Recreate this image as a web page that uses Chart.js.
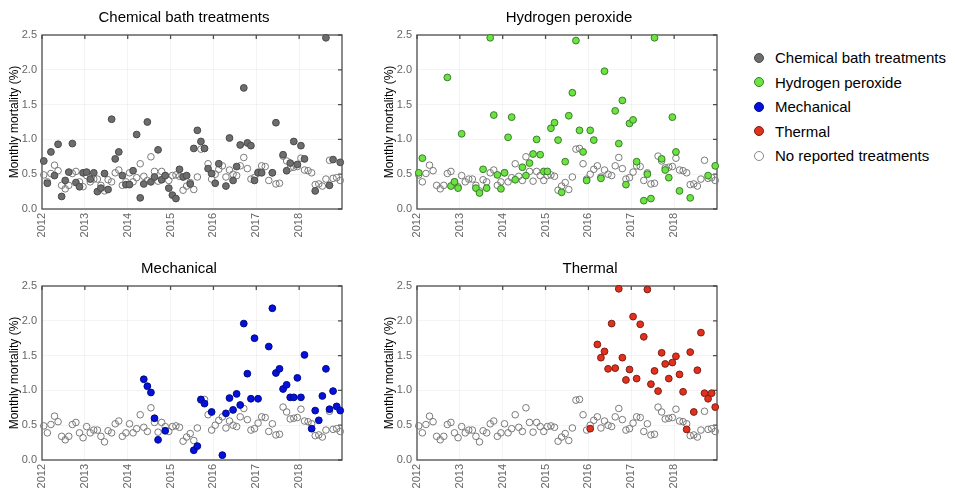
<!DOCTYPE html>
<html>
<head>
<meta charset="utf-8">
<script src="https://cdn.jsdelivr.net/npm/chart.js@4/dist/chart.umd.min.js"></script>
<style>
body { margin: 0; background: #fff; font-family: "Liberation Sans", Arial, sans-serif; }
#wrap { position: relative; width: 957px; height: 491px; overflow: hidden; }
canvas { position: absolute; }
.ttl { position: absolute; width: 240px; text-align: center; font-size: 15px; line-height: 18px; color: #000; }
#legend { position: absolute; left: 752px; top: 46px; }
.item { height: 24.5px; line-height: 24.5px; font-size: 15px; color: #000; white-space: nowrap; }
.dot { display: inline-block; width: 8px; height: 8px; border-radius: 50%; border: 1px solid; vertical-align: middle; margin: -3px 11px 0 2px; }
</style>
</head>
<body>
<div id="wrap">
  <canvas id="c1" width="355" height="250" style="left:0;top:0"></canvas>
  <canvas id="c2" width="355" height="250" style="left:375px;top:0"></canvas>
  <canvas id="c3" width="355" height="250" style="left:0;top:251px"></canvas>
  <canvas id="c4" width="355" height="250" style="left:375px;top:251px"></canvas>
  <div class="ttl" style="left:64px;top:8px">Chemical bath treatments</div>
  <div class="ttl" style="left:449px;top:8px">Hydrogen peroxide</div>
  <div class="ttl" style="left:59px;top:259px">Mechanical</div>
  <div class="ttl" style="left:470px;top:259px">Thermal</div>
  <div id="legend"></div>
</div>
<script>
// months are counted from Jan 2012 (0) to Dec 2018 (83)
var years = [2012, 2013, 2014, 2015, 2016, 2017, 2018];
var yTicks = [0, 0.5, 1.0, 1.5, 2.0, 2.5];

// no reported treatments, one value per month
var baseVals = [0.49, 0.39, 0.51, 0.63, 0.55, 0.34, 0.29, 0.34, 0.51, 0.54, 0.39, 0.32,
    0.48, 0.39, 0.43, 0.43, 0.34, 0.26, 0.42, 0.39, 0.52, 0.56, 0.34, 0.39,
    0.52, 0.39, 0.45, 0.65, 0.47, 0.41, 0.75, 0.54, 0.40, 0.54, 0.48, 0.41,
    0.48, 0.49, 0.47, 0.27, 0.33, 0.38, 0.28, 0.46, 0.86, 0.87, 0.65, 0.43,
    0.50, 0.57, 0.62, 0.46, 0.56, 0.50, 0.48, 0.62, 0.74, 0.58, 0.43, 0.45,
    0.53, 0.62, 0.61, 0.41, 0.52, 0.36, 0.37, 0.76, 0.69, 0.59, 0.60, 0.61,
    0.73, 0.56, 0.55, 0.52, 0.35, 0.36, 0.33, 0.43, 0.70, 0.44, 0.45, 0.41];

var chemMonths = [0, 1, 2, 3, 4, 5, 6, 7, 8, 9, 10, 11, 12, 13, 14, 15, 16, 17, 18, 19, 20, 21, 22, 23,
    24, 25, 26, 27, 28, 29, 30, 31, 32, 33, 34, 35, 36, 37, 38, 39, 40, 41, 42, 43, 44, 45, 46, 47,
    48, 49, 51, 52, 53, 54, 55, 56, 57, 58, 59, 60, 61, 64, 65, 67, 68, 69, 70, 71, 72, 73, 76, 79, 80, 81, 83];
var chemVals = [0.69, 0.37, 0.82, 0.48, 0.93, 0.18, 0.41, 0.53, 0.94, 0.38, 0.32, 0.52, 0.53, 0.43, 0.52, 0.25, 0.30, 0.51, 0.28, 1.29, 0.72, 0.82, 0.48, 0.35,
    0.35, 0.55, 1.07, 0.16, 0.36, 1.25, 0.39, 0.46, 0.85, 0.42, 0.48, 0.30, 0.20, 0.15, 0.57, 0.46, 0.48, 0.36, 0.87, 1.13, 0.97, 0.87, 0.58, 0.51,
    0.37, 0.65, 0.33, 1.02, 0.41, 0.61, 0.92, 1.74, 0.95, 0.91, 0.41, 0.52, 0.52, 0.52, 1.24, 0.78, 0.55, 0.66, 0.97, 0.64, 0.91, 0.72, 0.26, 2.46, 0.34, 0.71, 0.67];

var h2o2Months = [0, 1, 8, 9, 10, 11, 12, 16, 17, 18, 19, 20, 21, 22, 23, 24, 25, 26, 27, 29, 30, 31, 32, 33, 34, 35,
    36, 37, 38, 39, 40, 41, 42, 43, 44, 45, 46, 47, 48, 49, 51, 52, 55, 56, 57, 58, 59, 60, 61, 63, 64, 65, 66,
    68, 69, 70, 71, 72, 73, 76, 81, 83];
var h2o2Vals = [0.52, 0.73, 1.89, 0.33, 0.39, 0.30, 1.08, 0.30, 0.23, 0.57, 0.30, 2.46, 1.35, 0.49, 0.29, 0.52, 1.03, 1.32, 0.42, 0.60, 0.48, 0.66, 0.79, 1.00, 0.78, 0.54,
    0.54, 1.16, 1.24, 0.99, 0.24, 0.68, 1.34, 1.67, 2.42, 1.13, 0.82, 0.41, 1.13, 0.99, 0.44, 1.98, 1.41, 0.94, 1.56, 0.35, 1.23, 1.28, 0.68, 0.12, 0.50, 0.15, 2.46,
    0.72, 0.56, 0.45, 1.32, 0.82, 0.26, 0.16, 0.48, 0.62];

var mechMonths = [28, 29, 30, 31, 32, 34, 42, 43, 44, 45, 47, 50, 51, 52, 53, 54, 55, 56, 57, 58, 59, 60,
    63, 64, 65, 66, 67, 68, 69, 70, 71, 72, 73, 75, 76, 77, 78, 79, 80, 81, 82, 83];
var mechVals = [1.16, 1.06, 0.97, 0.60, 0.29, 0.42, 0.14, 0.20, 0.87, 0.81, 0.69, 0.07, 0.67, 0.89, 0.72, 0.95, 0.79, 1.96, 1.24, 0.88, 1.75, 0.88,
    1.63, 2.18, 1.25, 1.31, 1.02, 1.08, 0.90, 0.90, 1.18, 0.90, 1.51, 0.45, 0.71, 0.57, 0.92, 1.31, 0.73, 0.99, 0.77, 0.71];

var thermMonths = [48, 50, 51, 52, 53, 54, 55, 56, 57, 58, 59, 60, 61, 62, 63, 64, 65, 66, 67, 68, 69, 70,
    71, 72, 73, 74, 75, 76, 77, 78, 79, 80, 81, 82, 83];
var thermVals = [0.45, 1.66, 1.47, 1.56, 1.31, 1.96, 1.32, 2.46, 1.47, 1.15, 1.30, 2.06, 1.17, 1.95, 1.77, 2.45, 1.09, 1.28, 0.99, 1.54, 1.38, 1.17,
    1.40, 1.49, 1.23, 0.98, 0.44, 1.55, 0.69, 1.29, 1.83, 0.96, 0.88, 0.96, 0.76];

var series = [
    { name: 'Chemical bath treatments', months: chemMonths, vals: chemVals, fill: '#6d6d6d', line: '#4a4a4a' },
    { name: 'Hydrogen peroxide', months: h2o2Months, vals: h2o2Vals, fill: '#6be443', line: '#3b7d2a' },
    { name: 'Mechanical', months: mechMonths, vals: mechVals, fill: '#0610dc', line: '#000a86' },
    { name: 'Thermal', months: thermMonths, vals: thermVals, fill: '#e2301d', line: '#7a2015' }
];
var baseStyle = { name: 'No reported treatments', fill: '#ffffff', line: '#7a7a7a' };

function toPoints(months, vals) {
    var pts = [];
    for (var i = 0; i < months.length; i++) {
        pts.push({ x: months[i] + 0.5, y: vals[i] });
    }
    return pts;
}

var baseMonths = [];
for (var i = 0; i < baseVals.length; i++) baseMonths.push(i);

// frame round the plot with short inward ticks on top and right
var boxPlugin = {
    id: 'box',
    beforeDatasetsDraw: function(chart) {
        var a = chart.chartArea, c = chart.ctx;
        c.save();
        c.strokeStyle = '#4d4d4d';
        c.lineWidth = 1.3;
        c.strokeRect(a.left, a.top, a.right - a.left, a.bottom - a.top);
        c.beginPath();
        chart.scales.x.ticks.forEach(function(t) {
            var px = chart.scales.x.getPixelForValue(t.value);
            c.moveTo(px, a.top);
            c.lineTo(px, a.top + 4);
        });
        chart.scales.y.ticks.forEach(function(t) {
            var py = chart.scales.y.getPixelForValue(t.value);
            c.moveTo(a.right, py);
            c.lineTo(a.right - 4, py);
        });
        c.stroke();
        c.restore();
    }
};

function makeChart(id, s) {
    var ctx = document.getElementById(id).getContext('2d');
    return new Chart(ctx, {
        type: 'scatter',
        data: {
            datasets: [{
                label: s.name,
                data: toPoints(s.months, s.vals),
                backgroundColor: s.fill,
                borderColor: s.line,
                borderWidth: 1,
                pointRadius: 3.4,
                clip: false
            }, {
                label: baseStyle.name,
                data: toPoints(baseMonths, baseVals),
                backgroundColor: 'rgba(255,255,255,0)',
                borderColor: baseStyle.line,
                borderWidth: 1,
                pointRadius: 3.3,
                clip: false
            }]
        },
        options: {
            responsive: false,
            animation: false,
            layout: { padding: { top: 35, right: 13, left: 0, bottom: 0 } },
            plugins: { legend: { display: false }, tooltip: { enabled: false } },
            scales: {
                x: {
                    type: 'linear',
                    min: 0,
                    max: 84,
                    afterBuildTicks: function(sc) {
                        sc.ticks = years.map(function(y) { return { value: (y - 2012) * 12 }; });
                    },
                    ticks: {
                        autoSkip: false,
                        minRotation: 90,
                        maxRotation: 90,
                        padding: 4,
                        color: '#666',
                        font: { family: '"Liberation Sans", Arial', size: 11 },
                        callback: function(v) { return String(2012 + v / 12); }
                    },
                    grid: { color: 'rgba(0,0,0,0.045)', drawTicks: false },
                    border: { display: false },
                    afterFit: function(sc) { sc.height = 41; }
                },
                y: {
                    min: 0,
                    max: 2.5,
                    afterBuildTicks: function(sc) {
                        sc.ticks = yTicks.map(function(v) { return { value: v }; });
                    },
                    ticks: {
                        padding: 5,
                        color: '#666',
                        font: { family: '"Liberation Sans", Arial', size: 11 },
                        callback: function(v) { return v.toFixed(1); }
                    },
                    grid: { color: 'rgba(0,0,0,0.045)', drawTicks: false },
                    border: { display: false },
                    title: {
                        display: true,
                        text: 'Monthly mortality (%)',
                        color: '#000',
                        font: { family: '"Liberation Sans", Arial', size: 12 },
                        padding: { top: 7, bottom: 0 }
                    },
                    afterFit: function(sc) { sc.width = 42; }
                }
            }
        },
        plugins: [boxPlugin]
    });
}

makeChart('c1', series[0]);
makeChart('c2', series[1]);
makeChart('c3', series[2]);
makeChart('c4', series[3]);

// legend
var lg = document.getElementById('legend');
series.concat([baseStyle]).forEach(function(s) {
    var row = document.createElement('div');
    row.className = 'item';
    var dot = document.createElement('span');
    dot.className = 'dot';
    dot.style.background = s.fill;
    dot.style.borderColor = s === baseStyle ? '#8a8a8a' : s.line;
    row.appendChild(dot);
    row.appendChild(document.createTextNode(s.name));
    lg.appendChild(row);
});
</script>
</body>
</html>
